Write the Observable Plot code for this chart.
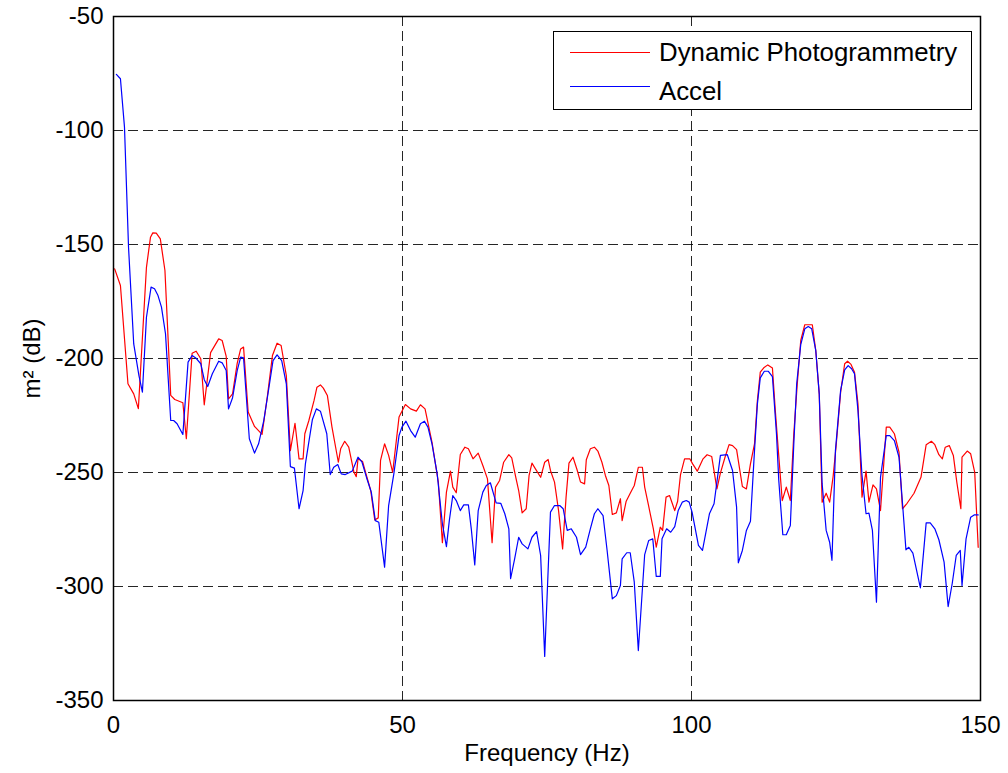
<!DOCTYPE html>
<html><head><meta charset="utf-8">
<script src="https://cdn.jsdelivr.net/npm/d3@7"></script>
<script src="https://cdn.jsdelivr.net/npm/@observablehq/plot@0.6"></script>
<style>
body{margin:0;background:#fff;}
#wrap{position:relative;width:1008px;height:773px;}
#legend{position:absolute;left:553px;top:31px;width:417px;height:77px;border:1.5px solid #000;background:#fff;font-family:"Liberation Sans",Arial,sans-serif;font-size:25.8px;color:#000;}
.sw{position:absolute;left:16px;width:80px;height:0;border-top:1.3px solid;}
.lab{position:absolute;left:105px;line-height:25px;white-space:nowrap;}
</style>
</head><body>
<div id="wrap"><div id="chart"></div>
<div id="legend">
  <div class="sw" style="top:20px;border-color:#ff0000"></div><div class="lab" style="top:8px">Dynamic Photogrammetry</div>
  <div class="sw" style="top:54px;border-color:#0000ff"></div><div class="lab" style="top:47px">Accel</div>
</div></div>
<script>
const seriesNames = ["Dynamic Photogrammetry", "Accel"];
const xTicks = [0, 50, 100, 150];
const yTicks = [-350, -300, -250, -200, -150, -100, -50];

const freqDP = [0.2,1.2,2.5,3.5,4.3,5.7,6.4,6.8,7.4,8.1,8.9,9.9,10.6,12.0,12.6,13.6,14.3,15.1,15.7,16.8,18.2,18.8,19.5,19.9,20.6,21.4,22.0,22.5,23.3,
24.4,25.7,26.6,27.5,28.3,29.0,29.9,30.6,31.4,32.1,32.8,33.1,33.8,34.7,35.2,35.8,36.3,37.0,37.8,38.9,39.3,40.0,40.7,41.6,42.0,42.3,43.1,43.6,44.5,45.2,45.8,46.2,46.9,47.6,48.3,49.4,
50.5,51.4,52.4,53.1,53.9,55.1,56.2,56.9,57.6,58.3,58.7,59.3,60.0,60.8,61.4,62.2,63.1,63.9,64.7,65.5,66.1,66.8,67.5,68.4,68.9,69.6,70.1,70.7,71.4,71.9,72.4,73.0,73.9,
74.6,75.2,75.6,76.3,77.0,77.7,78.3,78.8,79.5,80.2,80.8,81.5,81.8,82.5,83.2,83.8,84.5,85.1,85.7,86.3,87.0,87.7,88.0,88.7,89.4,90.1,90.8,91.5,91.9,92.6,93.4,93.9,94.6,95.0,95.6,96.2,97.1,97.6,98.1,98.8,
99.7,100.2,101.0,102.0,102.7,103.5,104.4,105.0,105.8,106.5,107.1,107.8,108.8,109.5,110.2,110.9,111.4,111.9,112.5,113.2,114.0,114.5,115.0,115.7,116.4,117.1,117.7,118.3,118.9,119.6,120.9,121.5,122.1,122.6,123.3,123.9,
124.5,125.0,125.8,126.5,127.0,127.6,128.2,128.8,129.5,130.2,130.7,131.4,132.0,132.7,133.7,134.3,135.1,135.9,136.5,137.3,138.5,139.7,140.6,141.5,142.1,142.8,143.4,143.9,144.6,145.3,145.9,146.6,146.8,147.7,148.3,149.0,149.6];
const dbDP = [-160.7,-168,-211.1,-215.5,-222,-160,-146.8,-144.9,-145,-147.5,-161.4,-216.2,-218,-219.4,-235.2,-197.7,-196.8,-200.1,-220.3,-197.4,-191.4,-192.1,-199.1,-217.7,-215.5,-202.1,-195.8,-195,-223.5,
-229.8,-233.3,-217,-198.7,-193.3,-194.3,-207.5,-240.4,-228.4,-244,-244,-233,-227.2,-218.4,-212.6,-211.6,-213,-216.2,-230.1,-245.5,-239.6,-236.3,-238.9,-249.9,-251.8,-244,-245.2,-249.9,-257.9,-270.8,-269.9,-244.7,-237.4,-242.5,-249.9,-225.7,
-220.2,-222.1,-223.1,-220.3,-222.1,-236.7,-254.2,-280.8,-258.6,-249.4,-256.4,-258.9,-242.1,-238.9,-239.6,-244,-241.5,-246.9,-252.8,-280.8,-256.4,-253.5,-245.5,-242.2,-243.6,-252.1,-257.9,-267.7,-265.9,-251.3,-245.9,-248.4,-252.1,
-245.5,-244.3,-249.1,-254.2,-266.7,-283.5,-260.8,-245.9,-243.3,-248.8,-254.2,-255,-244.4,-239.6,-238.9,-240.6,-245.5,-251.3,-255.7,-268.4,-267.7,-261.5,-271.1,-262.6,-259.1,-255.7,-247.7,-247.7,-256.4,-264.9,-274.7,-282.7,-274,-275.4,-260.8,-260.1,-266.7,-262.6,-250.9,-244,
-244,-246.2,-249.4,-244,-242.2,-243,-257.2,-250.3,-243.3,-237.8,-238.2,-240,-256.1,-257.2,-246.2,-237.4,-218.4,-206,-204.1,-202.8,-204.2,-222.8,-239.6,-262.3,-256.4,-262.3,-233,-211.1,-192.1,-185.2,-185.2,-196.5,-215.5,-263,-259.1,-263,
-251.8,-238.9,-214.8,-202.3,-201.2,-202.6,-206,-219.9,-260.8,-249.4,-263,-255.4,-257.2,-266.7,-230.1,-230.1,-233,-241.1,-265.9,-263.5,-259.1,-252.1,-237.8,-236.3,-237.8,-242.2,-244,-238.9,-238.2,-242.5,-254.2,-265.9,-243.3,-240.6,-241.8,-249.9,-282.8];

const freqAcc = [0.5,1.2,1.9,2.6,3.5,4.4,5.0,5.7,6.5,7.1,7.7,8.3,9.0,9.9,10.4,11.0,12.0,12.9,13.6,14.3,15.1,15.7,16.3,17.1,18.2,18.8,19.5,19.9,20.6,21.4,22.0,22.5,23.5,24.4,
25.1,26.0,26.9,27.6,28.3,29.1,29.9,30.6,31.3,32.1,32.8,33.2,34.4,35.1,35.8,36.9,37.5,38.1,38.8,39.4,40.1,41.3,42.3,43.0,43.9,44.6,45.3,45.9,46.9,47.6,48.5,49.4,
49.9,50.6,51.4,52.2,53.1,53.8,54.4,55.1,56.0,56.9,57.6,58.1,58.7,59.3,60.0,60.6,61.4,61.9,62.5,63.1,63.9,64.5,65.2,66.2,67.0,67.7,68.4,68.7,69.4,70.1,70.7,71.7,72.4,73.2,73.9,74.6,
75.6,76.3,77.2,77.8,78.5,79.2,80.1,80.8,81.7,82.5,83.2,83.8,84.7,85.4,86.3,87.0,87.7,88.0,88.8,89.4,90.1,90.8,91.9,92.6,93.3,93.9,94.6,94.9,95.7,96.4,97.1,97.7,98.4,99.1,
99.6,100.1,101.2,101.9,103.1,103.9,105.0,106.2,107.1,107.8,108.1,108.8,109.5,110.2,110.9,111.4,111.9,112.6,113.3,114.0,114.7,115.1,115.8,116.4,117.1,117.7,118.2,118.9,119.6,120.2,120.8,121.5,122.1,122.6,123.3,123.9,124.3,124.9,
125.8,126.5,127.1,127.7,128.2,128.8,129.5,130.2,130.7,131.3,132.0,132.7,133.7,134.3,135.1,135.9,136.6,137.1,137.6,138.3,139.6,140.6,141.3,142.1,142.8,143.7,144.4,145.1,145.8,146.5,146.8,147.5,148.3,148.9,149.6];
const dbAcc = [-75.4,-77.3,-98.5,-151.2,-193.6,-207.5,-214.8,-181.9,-168.7,-169.4,-172.4,-177.5,-189.2,-227.2,-227.2,-228.6,-233.3,-201.6,-198.7,-199.9,-202.3,-209.3,-212.3,-206.7,-201.2,-201.9,-205.3,-222.1,-217.2,-205.3,-199.4,-199.7,-235.2,-241.5,
-237.4,-227.2,-212.6,-200.9,-198.4,-200.9,-211.1,-247.4,-248.1,-265.9,-257.9,-246.2,-226.9,-222.1,-223.1,-233,-250.9,-247.7,-246.5,-250.6,-250.9,-249.4,-243.3,-245.5,-253.2,-258.6,-271.1,-271.8,-291.5,-264.5,-250.6,-233.8,
-230.1,-227.5,-231.6,-234.5,-228.6,-227.5,-230.1,-237.4,-250.6,-272.5,-282.5,-271.1,-260.1,-262.3,-266.7,-264.2,-264.2,-274.7,-290.5,-266.7,-258.6,-255.7,-254.5,-263.3,-263.5,-268.1,-274.7,-296.6,-287.9,-278.4,-281.3,-283.5,-278.4,-275.9,-286.4,-330.7,
-267.4,-264.5,-264.5,-265.9,-275.4,-274.7,-278.4,-286,-282.7,-274.7,-268.1,-265.9,-268.9,-284.2,-305.4,-304,-299.6,-287.9,-285.2,-285.2,-298.1,-328.1,-286,-279.8,-279.1,-295.6,-295.6,-279.1,-274.7,-276.2,-273.7,-266.7,-263,-262.3,
-263,-267.4,-282,-284.2,-268.1,-263.7,-242.5,-242.2,-249.1,-265.2,-289.6,-284.2,-275.4,-271.4,-240.4,-219.9,-208.5,-205.6,-205.6,-207.9,-233,-253.5,-277.3,-277.3,-273.2,-237.4,-211.1,-193.9,-187,-186,-187,-196.5,-215.5,-254.9,-275.4,-280.6,-288.5,-240.4,
-214,-205,-203.1,-204.5,-206.7,-222.8,-251.3,-268.1,-267.8,-275.4,-306.9,-252.1,-233.8,-233.8,-236,-243.3,-266.7,-283.9,-282.8,-285.4,-300.6,-272.1,-272.1,-274.7,-279.5,-289.3,-308.8,-298.8,-286.4,-284.2,-299.6,-279.1,-269.6,-268.6,-268.6];

const dp = freqDP.map((f, i) => ({f, v: dbDP[i], s: seriesNames[0]}));
const acc = freqAcc.map((f, i) => ({f, v: dbAcc[i], s: seriesNames[1]}));
const fmt = d => String(d);
const font = '"Liberation Sans", Arial, sans-serif';

const chart = Plot.plot({
  width: 1008, height: 773,
  marginLeft: 113, marginRight: 28, marginTop: 16, marginBottom: 73,
  style: {fontFamily: font, fontSize: "24px", background: "#fff", color: "#000", overflow: "visible"},
  x: {domain: [0, 150]},
  y: {domain: [-350, -50]},
  marks: [
    Plot.gridX(xTicks, {stroke: "#000", strokeOpacity: 0.85, strokeWidth: 1, strokeDasharray: "10,5"}),
    Plot.gridY(yTicks, {stroke: "#000", strokeOpacity: 0.85, strokeWidth: 1, strokeDasharray: "10,5"}),
    Plot.axisX(xTicks, {tickFormat: fmt, tickSize: 0, tickPadding: 15, label: "Frequency (Hz)", labelAnchor: "center", labelArrow: "none", labelOffset: 60, fontSize: 24}),
    Plot.axisY(yTicks, {tickFormat: fmt, tickSize: 0, tickPadding: 10, label: "m² (dB)", labelAnchor: "center", labelArrow: "none", labelOffset: 91, fontSize: 24}),
    Plot.line(dp, {x: "f", y: "v", stroke: "#ff0000", strokeWidth: 1.2}),
    Plot.line(acc, {x: "f", y: "v", stroke: "#0000ff", strokeWidth: 1.2}),
    Plot.frame({stroke: "#000", strokeWidth: 1.5})
  ]
});
document.getElementById("chart").appendChild(chart);
</script>
</body></html>
